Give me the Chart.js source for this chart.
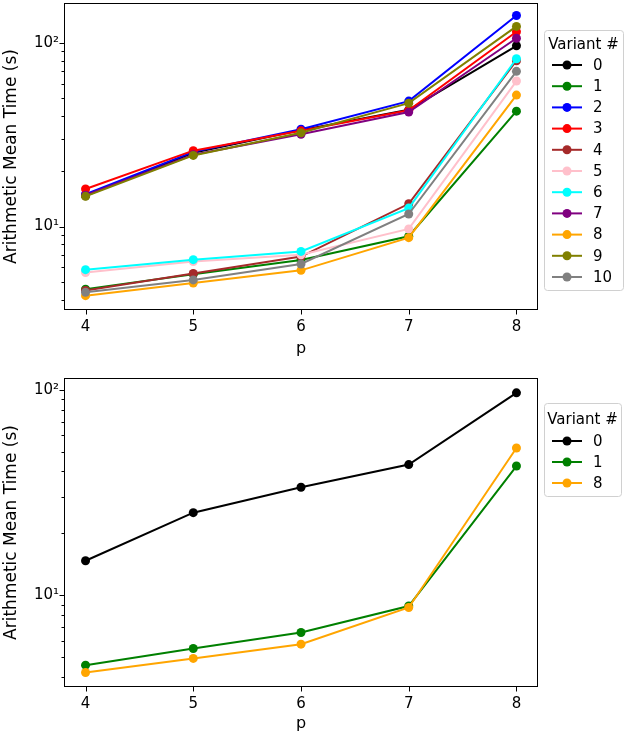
<!DOCTYPE html>
<html>
<head>
<meta charset="utf-8">
<script src="https://cdn.jsdelivr.net/npm/chart.js@4.4.1/dist/chart.umd.min.js"></script>
<style>
  body { margin: 0; background: #fff; }
  #wrap { position: relative; width: 624px; height: 737px; }
  canvas { position: absolute; left: 0; }
</style>
</head>
<body>
<div id="wrap">
  <canvas id="top" width="624" height="365" style="top:0"></canvas>
  <canvas id="bottom" width="624" height="372" style="top:365px"></canvas>
</div>
<script>
// valores (tiempo medio en s, eje log)
const pValues = [4, 5, 6, 7, 8];
const variantNames = ["0", "1", "2", "3", "4", "5", "6", "7", "8", "9", "10"];
const v0 = [14.7, 25.2, 33.5, 43.2, 96.5];
const v1 = [4.56, 5.5, 6.58, 8.85, 42.5];
const v2 = [15.0, 25.5, 33.9, 48.2, 141];
const v3 = [16.0, 25.9, 33.2, 43.0, 115];
const v4 = [4.48, 5.55, 6.86, 13.3, 80];
const v5 = [5.62, 6.45, 7.02, 9.7, 62];
const v6 = [5.82, 6.6, 7.32, 12.6, 82];
const v7 = [14.8, 24.6, 31.8, 42.0, 106];
const v8 = [4.2, 4.92, 5.77, 8.7, 52];
const v9 = [14.6, 24.4, 32.4, 47.0, 123];
const v10 = [4.38, 5.12, 6.25, 11.7, 70];
const allSeries = [v0, v1, v2, v3, v4, v5, v6, v7, v8, v9, v10];
const subsetIdx = [0, 1, 8];   // variantes de la grafica de abajo
const yMajorTicks = [10, 100];
const yMinorTicks = [2, 3, 4, 5, 6, 7, 8, 9, 20, 30, 40, 50, 60, 70, 80, 90, 200];

const colors = ["#000000", "#008000", "#0000ff", "#ff0000", "#a52a2a", "#ffc0cb",
                "#00ffff", "#800080", "#ffa500", "#808000", "#808080"];

const FONT = "'DejaVu Sans', sans-serif";

// marco completo + marcas de ticks tipo matplotlib
const frameTicks = {
  id: "frameTicks",
  afterDraw(chart) {
    const { ctx, chartArea: a, scales: { x, y } } = chart;
    ctx.save();
    ctx.strokeStyle = "#000";
    ctx.lineWidth = 1;
    const L = Math.round(a.left) + 0.5, R = Math.round(a.right) - 0.5;
    const T = Math.round(a.top) + 0.5, B = Math.round(a.bottom) - 0.5;
    ctx.strokeRect(L, T, R - L, B - T);
    ctx.beginPath();
    pValues.forEach(p => {
      const px = Math.round(x.getPixelForValue(p)) + 0.5;
      ctx.moveTo(px, B); ctx.lineTo(px, B + 5);
    });
    yMajorTicks.concat(yMinorTicks).forEach(v => {
      if (v < y.min || v > y.max) return;
      const py = Math.round(y.getPixelForValue(v)) + 0.5;
      const len = yMajorTicks.includes(v) ? 5 : 3;
      ctx.moveTo(L, py); ctx.lineTo(L - len, py);
    });
    ctx.stroke();
    ctx.restore();
  }
};

// leyenda estilo matplotlib (linea + marcador)
const mplLegend = {
  id: "mplLegend",
  afterDraw(chart, args, opts) {
    const ctx = chart.ctx;
    const a = chart.chartArea;
    const bx = a.right + 6, by = opts.top;
    ctx.save();
    ctx.fillStyle = "#fff";
    ctx.strokeStyle = "#d0d0d0";
    ctx.lineWidth = 1;
    ctx.beginPath();
    ctx.roundRect(bx + 0.5, by + 0.5, opts.width, opts.height, 3);
    ctx.fill();
    ctx.stroke();
    ctx.font = "15px " + FONT;
    ctx.fillStyle = "#000";
    ctx.textBaseline = "middle";
    ctx.textAlign = "center";
    ctx.fillText("Variant #", bx + opts.width / 2, by + opts.titleY);
    ctx.textAlign = "left";
    chart.data.datasets.forEach((ds, i) => {
      const yy = by + opts.firstRow + i * opts.rowH;
      ctx.strokeStyle = ds.borderColor;
      ctx.lineWidth = 2;
      ctx.beginPath();
      ctx.moveTo(bx + 8, yy); ctx.lineTo(bx + 38, yy);
      ctx.stroke();
      ctx.fillStyle = ds.backgroundColor;
      ctx.beginPath();
      ctx.arc(bx + 23, yy, 4.5, 0, Math.PI * 2);
      ctx.fill();
      ctx.fillStyle = "#000";
      ctx.fillText(ds.label, bx + 49, yy + 1);
    });
    ctx.restore();
  }
};

function buildDatasets(indices) {
  return indices.map((k, i) => ({
    label: variantNames[k],
    data: pValues.map((p, j) => ({ x: p, y: allSeries[k][j] })),
    borderColor: colors[k],
    backgroundColor: colors[k],
    borderWidth: 2,
    pointRadius: 4.5,
    pointHoverRadius: 4.5,
    pointBorderWidth: 0,
    tension: 0,
    order: indices.length - i
  }));
}

function makeChart(id, indices, cfg) {
  return new Chart(document.getElementById(id), {
    type: "line",
    data: { datasets: buildDatasets(indices) },
    plugins: [frameTicks, mplLegend],
    options: {
      responsive: false,
      animation: false,
      layout: { autoPadding: false, padding: { top: cfg.padTop, right: 86, left: 0, bottom: 0 } },
      plugins: {
        legend: { display: false },
        tooltip: { enabled: false },
        mplLegend: cfg.legend
      },
      scales: {
        x: {
          type: "linear",
          min: 3.8,
          max: 8.2,
          afterBuildTicks: s => { s.ticks = pValues.map(v => ({ value: v })); },
          afterFit: s => { s.height = cfg.xHeight; s.paddingLeft = 0; s.paddingRight = 0; },
          grid: { display: false, drawTicks: false },
          border: { display: false },
          ticks: { autoSkip: false, maxRotation: 0, padding: 8, color: "#000",
                   font: { family: FONT, size: 15 }, callback: v => String(v) },
          title: { display: true, text: "p", color: "#000",
                   font: { family: FONT, size: 16 }, padding: { top: 0, bottom: cfg.pPad } }
        },
        y: {
          type: "logarithmic",
          min: cfg.yMin,
          max: cfg.yMax,
          afterBuildTicks: s => { s.ticks = yMajorTicks.map(v => ({ value: v })); },
          afterFit: s => { s.width = 64; s.paddingTop = 0; s.paddingBottom = 0; },
          grid: { display: false, drawTicks: false },
          border: { display: false },
          ticks: { autoSkip: false, padding: 5, color: "#000",
                   font: { family: FONT, size: 15 },
                   callback: v => (v === 10 ? "10\u00b9" : v === 100 ? "10\u00b2" : "") },
          title: { display: true, text: "Arithmetic Mean Time (s)", color: "#000",
                   font: { family: FONT, size: 17 }, padding: { top: 1, bottom: 0 } }
        }
      }
    }
  });
}

makeChart("top", variantNames.map((n, i) => i), {
  padTop: 3, xHeight: 55, pPad: 7, yMin: 3.51, yMax: 165,
  legend: { top: 30, width: 79, height: 260, titleY: 15, firstRow: 35, rowH: 21.2 }
});

makeChart("bottom", subsetIdx, {
  padTop: 13, xHeight: 50, pPad: 4, yMin: 3.57, yMax: 114,
  legend: { top: 38, width: 77, height: 93, titleY: 17, firstRow: 38, rowH: 21 }
});
</script>
</body>
</html>
